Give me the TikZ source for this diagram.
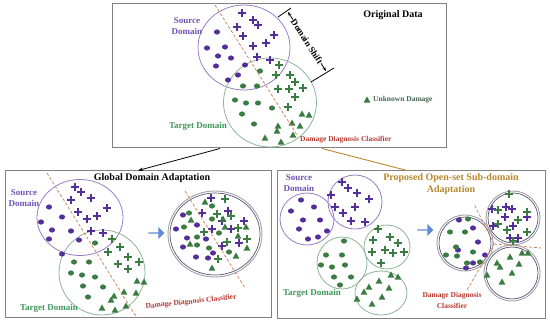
\documentclass[tikz,border=0pt]{standalone}
\usepackage{fontspec}
\setmainfont{Liberation Serif}
\usetikzlibrary{arrows.meta, shapes.arrows}

\definecolor{srcPurple}{RGB}{84,46,154}
\definecolor{tgtGreen}{RGB}{58,124,66}
\definecolor{srcRingC}{RGB}{150,125,200}
\definecolor{tgtRingC}{RGB}{140,180,150}
\definecolor{srcText}{RGB}{112,82,178}
\definecolor{tgtText}{RGB}{62,150,90}
\definecolor{classText}{RGB}{185,55,45}
\definecolor{classLineC}{RGB}{205,135,100}
\definecolor{goldC}{RGB}{185,135,45}
\definecolor{frameGray}{RGB}{130,130,130}
\definecolor{mixOuterC}{RGB}{160,160,168}
\definecolor{mixInnerC}{RGB}{85,85,115}
\definecolor{blueArrowC}{RGB}{92,140,212}
\definecolor{legendText}{RGB}{70,100,80}

\begin{document}
\begin{tikzpicture}[
    x=1pt, y=-1pt,
    font=\bfseries,
    % Frame Style
    panel/.style={rectangle, draw=frameGray, line width=1pt, inner sep=0pt},
    % Ring Styles
    srcRing/.style={draw=srcRingC, line width=0.8pt},
    tgtRing/.style={draw=tgtRingC, line width=0.8pt},
    mixOuter/.style={draw=mixOuterC, line width=0.9pt},
    mixInner/.style={draw=mixInnerC, line width=0.7pt},
    % Text Styles
    title/.style={font=\fontsize{10}{12}\selectfont\bfseries, inner sep=0pt},
    srcLabel/.style={text=srcText, font=\fontsize{9}{11}\selectfont\bfseries, align=center, inner sep=0pt},
    tgtLabel/.style={text=tgtText, font=\fontsize{9}{11}\selectfont\bfseries, inner sep=0pt},
    classLabel/.style={text=classText, font=\fontsize{7.5}{10}\selectfont\bfseries, align=center, inner sep=0pt},
    % Line Styles
    classLine/.style={draw=classLineC, dash pattern=on 3pt off 2pt, line width=0.8pt},
    shiftTick/.style={draw=black, line width=0.8pt},
    toGlobal/.style={draw=black, line width=0.8pt, -{Stealth[length=5pt, width=3.5pt]}},
    toOpen/.style={draw=goldC, line width=0.9pt},
    blockArrow/.style={single arrow, fill=blueArrowC, draw=none, minimum width=12pt,
        minimum height=16pt, single arrow head extend=2pt, inner sep=0pt},
    % Marker Pics
    dotmk/.pic={\fill (0,0) ellipse [x radius=3pt, y radius=2.6pt];},
    crossmk/.pic={\draw[line width=1.6pt] (-3.6pt,0) -- (3.6pt,0) (0,-3.6pt) -- (0,3.6pt);},
    trimk/.pic={\fill (-3.4pt,-2.7pt) -- (3.4pt,-2.7pt) -- (0,3.6pt) -- cycle;}
]
    \useasboundingbox (0,0) rectangle (550,329);

    % --- PANELS ---
    \node[panel, minimum width=334pt, minimum height=144pt] (orig) at (279,76) {};
    \node[panel, minimum width=266pt, minimum height=146pt] (gda) at (138,244) {};
    \node[panel, minimum width=268pt, minimum height=147pt] (osda) at (411,244.5) {};

    % --- ORIGINAL DATA ---
    \node[title] (origT) at (393,15) {Original Data};
    \draw[srcRing] (244,47.5) ellipse [x radius=46pt, y radius=42.5pt];
    \draw[tgtRing] (270,102.5) ellipse [x radius=46.5pt, y radius=44.5pt];
    \node[srcLabel] (origS) at (187,26) {Source\\Domain};
    \node[tgtLabel] (origG) at (198,126) {Target Domain};

    \foreach \x/\y in {217/32, 207/48, 225/47, 218/56, 231/58, 216/66, 245/65, 238/75, 228/80}
        \pic[color=srcPurple] at (\x,\y) {dotmk};
    \foreach \x/\y in {242/13, 253/20, 258/25, 237/27, 243/36, 274/35, 253/46, 266/43, 257/57, 270/60}
        \pic[color=srcPurple] at (\x,\y) {crossmk};
    \foreach \x/\y in {260/71, 243/86, 257/86, 235/100, 246/103, 258/103, 272/108, 242/114, 254/124}
        \pic[color=tgtGreen] at (\x,\y) {dotmk};
    \foreach \x/\y in {279/65, 276/75, 290/75, 295/82, 278/89, 289/89, 303/88, 295/97, 288/107}
        \pic[color=tgtGreen] at (\x,\y) {crossmk};
    \foreach \x/\y in {302/114, 309/115, 278/126, 292/123, 300/126, 277/131, 293/135, 265/138, 281/142}
        \pic[color=tgtGreen] at (\x,\y) {trimk};

    % Classifier
    \coordinate (origC1) at (215,5);
    \coordinate (origC2) at (297,135);
    \draw[classLine] (origC1) -- (origC2);
    \node[classLabel, anchor=west] (origCL) at (300,140) {Damage Diagnosis Classifier};

    % Domain Shift
    \coordinate (dsA1) at (278,17);
    \coordinate (dsA2) at (291,8);
    \coordinate (dsB1) at (311,82);
    \coordinate (dsB2) at (334,68);
    \coordinate (dsTop) at (288,12);
    \coordinate (dsBot) at (326,71);
    \draw[shiftTick] (dsA1) -- (dsA2);
    \draw[shiftTick] (dsB1) -- (dsB2);
    \draw[shiftTick, {Stealth[length=4pt, width=3pt]}-{Stealth[length=4pt, width=3pt]}] (dsTop) --
        node[midway, sloped, fill=white, inner sep=0.3pt, font=\fontsize{9}{10}\selectfont\bfseries] (dsL) {Domain Shift} (dsBot);

    % Legend
    \pic[color=tgtGreen] at (367,100) {trimk};
    \node[anchor=west, text=legendText, font=\fontsize{7.5}{9}\selectfont\bfseries, inner sep=0pt] (unk) at (373,100) {Unknown Damage};

    % --- CONNECTORS ---
    \draw[toGlobal] ([xshift=-59pt]orig.south) -- (gda.north);
    \draw[toOpen] ([xshift=43pt]orig.south) -- ([xshift=-4pt]osda.north);

    % --- GLOBAL DOMAIN ADAPTATION ---
    \node[title] (gdaT) at (152,178) {Global Domain Adaptation};
    \draw[srcRing] (80,217.5) ellipse [x radius=43pt, y radius=38pt];
    \draw[tgtRing] (102,272.5) ellipse [x radius=43pt, y radius=42.5pt];
    \node[srcLabel] (gdaS) at (24,198) {Source\\Domain};
    \node[tgtLabel] (gdaG) at (49,308) {Target Domain};

    \foreach \x/\y in {49/207, 41/222, 62/217, 52/230, 71/231, 49/239, 79/240, 62/254}
        \pic[color=srcPurple] at (\x,\y) {dotmk};
    \foreach \x/\y in {75/187, 81/192, 71/200, 91/198, 78/212, 107/208, 87/219, 97/216, 91/231, 103/233}
        \pic[color=srcPurple] at (\x,\y) {crossmk};
    \foreach \x/\y in {95/243, 74/262, 89/262, 71/273, 82/275, 95/277, 83/286, 103/287, 88/297}
        \pic[color=tgtGreen] at (\x,\y) {dotmk};
    \foreach \x/\y in {112/239, 120/247, 108/252, 118/264, 128/257, 139/262, 128/269}
        \pic[color=tgtGreen] at (\x,\y) {crossmk};
    \foreach \x/\y in {137/281, 144/282, 124/292, 136/293, 114/296, 111/300, 102/308, 115/310, 126/306}
        \pic[color=tgtGreen] at (\x,\y) {trimk};

    \coordinate (gdaC1) at (47,173);
    \coordinate (gdaC2) at (137,318);
    \draw[classLine] (gdaC1) -- (gdaC2);
    \node[classLabel, rotate=6] (gdaCL) at (191,302) {Damage Diagnosis Classifier};

    \node[blockArrow] (gdaArr) at (156,233) {};

    % Aligned domain
    \draw[mixOuter] (215,234) ellipse [x radius=47pt, y radius=43pt];
    \draw[mixInner] (215,234) ellipse [x radius=45pt, y radius=41pt];
    \foreach \x/\y in {183/215, 176/229, 187/238, 183/247, 197/225, 206/239, 196/257, 208/258, 213/253}
        \pic[color=srcPurple] at (\x,\y) {dotmk};
    \foreach \x/\y in {211/198, 202/213, 228/211, 222/221, 231/229, 212/229, 244/221, 239/243, 222/246}
        \pic[color=srcPurple] at (\x,\y) {crossmk};
    \foreach \x/\y in {212/206, 189/213, 212/219, 184/227, 197/237, 197/245, 219/233, 209/248, 229/252}
        \pic[color=tgtGreen] at (\x,\y) {dotmk};
    \foreach \x/\y in {225/199, 217/214, 231/216, 204/232, 238/228, 247/239, 227/242, 218/259}
        \pic[color=tgtGreen] at (\x,\y) {crossmk};
    \foreach \x/\y in {205/202, 191/220, 223/219, 225/227, 246/227, 238/236, 247/248, 236/256, 190/244, 212/268}
        \pic[color=tgtGreen] at (\x,\y) {trimk};
    \coordinate (gdaM1) at (185,191);
    \coordinate (gdaM2) at (245,288);
    \draw[classLine] (gdaM1) -- (gdaM2);

    % --- OPEN-SET SUB-DOMAIN ADAPTATION ---
    \node[title, text=goldC, align=center, font=\fontsize{10}{12}\selectfont\bfseries] (osdaT) at (451,184) {Proposed Open-set Sub-domain\\Adaptation};
    \node[srcLabel] (osdaS) at (299,183) {Source\\Domain};
    \node[tgtLabel] (osdaG) at (312,293) {Target Domain};

    \draw[srcRing] (307,219) ellipse [x radius=27pt, y radius=26pt];
    \draw[srcRing] (355,202) ellipse [x radius=27pt, y radius=27pt];
    \draw[tgtRing] (342,263) ellipse [x radius=25pt, y radius=26pt];
    \draw[tgtRing] (387,247) ellipse [x radius=23pt, y radius=22pt];
    \draw[tgtRing] (381,293) ellipse [x radius=26pt, y radius=22pt];

    \foreach \x/\y in {301/200, 291/211, 314/207, 303/220, 320/220, 299/229, 327/231, 308/239, 318/237}
        \pic[color=srcPurple] at (\x,\y) {dotmk};
    \foreach \x/\y in {342/182, 348/188, 357/193, 331/195, 369/199, 335/207, 355/207, 343/213, 351/221, 365/222}
        \pic[color=srcPurple] at (\x,\y) {crossmk};
    \foreach \x/\y in {344/241, 326/255, 342/255, 321/265, 332/267, 345/265, 334/277, 351/277, 340/285}
        \pic[color=tgtGreen] at (\x,\y) {dotmk};
    \foreach \x/\y in {378/229, 373/240, 390/237, 398/243, 372/252, 385/250, 393/253, 404/252, 381/263}
        \pic[color=tgtGreen] at (\x,\y) {crossmk};
    \foreach \x/\y in {391/275, 398/277, 379/281, 369/287, 389/288, 364/292, 382/297, 357/299, 372/304}
        \pic[color=tgtGreen] at (\x,\y) {trimk};

    \node[blockArrow] (osdaArr) at (425,230) {};

    % Aligned sub-domains
    \foreach \cx/\cy/\r in {465/243/28, 513/218/27, 512/273/28} {
        \draw[mixOuter] (\cx,\cy) circle [radius=\r pt];
        \draw[mixInner] (\cx,\cy) circle [radius=\r pt - 2pt];
    }
    \foreach \x/\y in {459/220, 473/228, 478/242, 458/250, 485/255, 466/268, 473/263}
        \pic[color=srcPurple] at (\x,\y) {dotmk};
    \foreach \x/\y in {468/219, 450/232, 465/232, 456/247, 446/255, 457/256, 473/252, 467/263, 480/262}
        \pic[color=tgtGreen] at (\x,\y) {dotmk};
    \foreach \x/\y in {492/209, 506/207, 512/209, 505/217, 527/217, 513/226, 493/226, 510/238, 518/238}
        \pic[color=srcPurple] at (\x,\y) {crossmk};
    \foreach \x/\y in {509/194, 498/210, 527/212, 518/220, 498/224, 507/230, 527/232, 513/241}
        \pic[color=tgtGreen] at (\x,\y) {crossmk};
    \foreach \x/\y in {510/257, 522/253, 528/253, 497/263, 500/267, 519/264, 487/275, 512/273, 502/282}
        \pic[color=tgtGreen] at (\x,\y) {trimk};

    \coordinate (osdaJ) at (494,244);
    \coordinate (osdaC1) at (474,204);
    \coordinate (osdaC2) at (541,248);
    \coordinate (osdaC3) at (467,290);
    \draw[classLine] (osdaJ) -- (osdaC1);
    \draw[classLine] (osdaJ) -- (osdaC2);
    \draw[classLine] (osdaJ) -- (osdaC3);
    \node[classLabel, font=\fontsize{7.5}{11}\selectfont\bfseries] (osdaCL) at (452,300) {Damage Diagnosis\\Classifier};

\end{tikzpicture}
\end{document}
